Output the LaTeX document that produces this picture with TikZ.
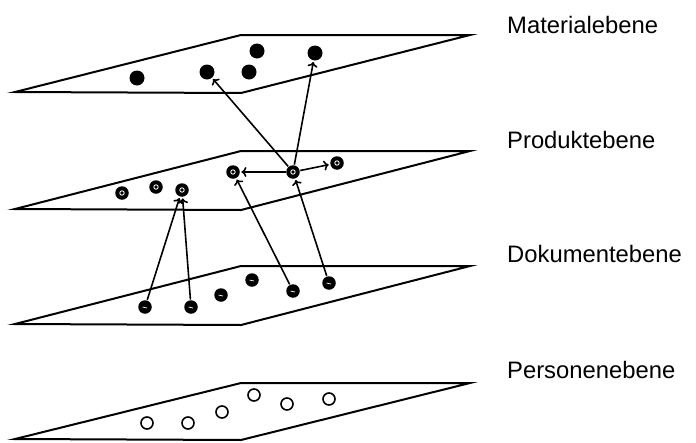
\documentclass[tikz,border=0pt]{standalone}
\usepackage{fontspec}
\setmainfont{Liberation Sans}
\usetikzlibrary{arrows.meta}
\begin{document}
\begin{tikzpicture}[x=1pt,y=-1pt,
  plane/.style={draw=black,line width=2pt,line join=miter},
  matdot/.style={circle,fill=black,minimum size=15pt,inner sep=0pt},
  proddot/.style={circle,fill=black,minimum size=13.5pt,inner sep=0pt,
    path picture={\draw[white,line width=0.9pt] (path picture bounding box.center) circle[radius=2.2pt];}},
  dokdot/.style={circle,fill=black,minimum size=13.5pt,inner sep=0pt,
    path picture={\draw[white,line width=0.7pt] ([xshift=-2.5pt]path picture bounding box.center) -- ([xshift=2pt,yshift=-1pt]path picture bounding box.center);}},
  persdot/.style={circle,draw=black,line width=1.6pt,fill=white,minimum size=12pt,inner sep=0pt},
  conn/.style={-{To[length=5pt,width=10pt]},line width=1.6pt,shorten >=1.5pt,shorten <=0.5pt},
  lab/.style={anchor=base west,inner sep=0pt,font=\fontsize{23.8}{28}\selectfont}]
\useasboundingbox (0,0) rectangle (696,442);
% planes
\draw[plane] (15,92) -- (241,35) -- (470,35) -- (241,93) -- cycle;
\draw[plane] (15,209) -- (241,151) -- (470,151) -- (241,210) -- cycle;
\draw[plane] (15,324) -- (241,266) -- (470,266) -- (241,325) -- cycle;
\draw[plane] (15,439) -- (241,383) -- (470,383) -- (241,440) -- cycle;
% Materialebene
\node[matdot] (m1) at (137,78) {};
\node[matdot] (m2) at (207,72) {};
\node[matdot] (m3) at (257,51) {};
\node[matdot] (m4) at (249,72) {};
\node[matdot] (m5) at (315,53) {};
% Produktebene
\node[proddot] (p1) at (122,193) {};
\node[proddot] (p2) at (156,187) {};
\node[proddot] (p3) at (182,190) {};
\node[proddot] (p4) at (233,172) {};
\node[proddot] (p5) at (293,172) {};
\node[proddot] (p6) at (337,163) {};
% Dokumentebene
\node[dokdot] (d1) at (145,307) {};
\node[dokdot] (d2) at (191,307) {};
\node[dokdot] (d3) at (221,295) {};
\node[dokdot] (d4) at (252,280) {};
\node[dokdot] (d5) at (293,291) {};
\node[dokdot] (d6) at (329,283) {};
% Personenebene
\node[persdot] (e1) at (147,423) {};
\node[persdot] (e2) at (188,423) {};
\node[persdot] (e3) at (222,412) {};
\node[persdot] (e4) at (254,395) {};
\node[persdot] (e5) at (287,404) {};
\node[persdot] (e6) at (329,399) {};
% connectors
\draw[conn] (p5) -- (m2);
\draw[conn] (p5) -- (m5);
\draw[conn] (p5) -- (p4);
\draw[conn] (p5) -- (p6);
\draw[conn] (d1) -- (p3);
\draw[conn] (d2) -- (p3);
\draw[conn] (d5) -- (p4);
\draw[conn] (d6) -- (p5);
% labels
\node[lab] (l1) at (507,33) {Materialebene};
\node[lab] (l2) at (507,148) {Produktebene};
\node[lab] (l3) at (507,262) {Dokumentebene};
\node[lab] (l4) at (507,378) {Personenebene};
\end{tikzpicture}
\end{document}
